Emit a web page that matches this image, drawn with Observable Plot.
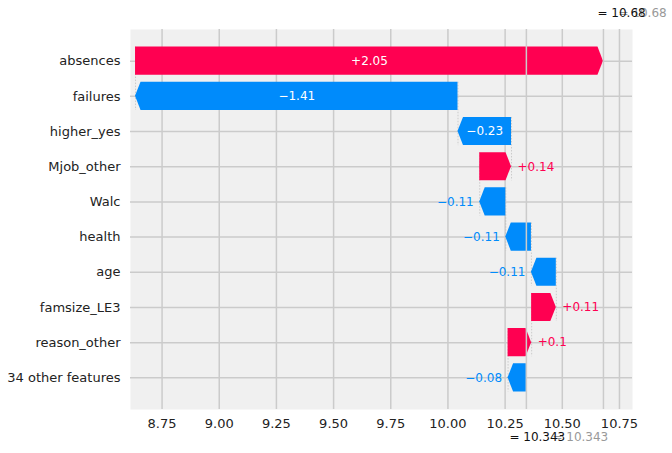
<!DOCTYPE html>
<html>
<head>
<meta charset="utf-8">
<script src="https://cdn.jsdelivr.net/npm/d3@7"></script>
<script src="https://cdn.jsdelivr.net/npm/@observablehq/plot@0.6"></script>
<style>
  body { margin: 0; background: #ffffff; }
  #chart svg { display: block; }
</style>
</head>
<body>
<div id="chart"></div>
<script>
// ---- data (top to bottom) ----
const features = ["absences", "failures", "higher_yes", "Mjob_other", "Walc", "health", "age", "famsize_LE3", "reason_other", "34 other features"];
const shapValues = [2.046, -1.41, -0.234, 0.139, -0.114, -0.112, -0.109, 0.108, 0.103, -0.08];
const baseValue = 10.343;
const xTicks = [8.75, 9.0, 9.25, 9.5, 9.75, 10.0, 10.25, 10.5, 10.75];

const RED = "#ff0051", BLUE = "#008bfb";
const GRID = "#cbcbcb";

// cumulative positions, starting from the base value at the bottom row
const n = features.length;
const rows = [];
let cursor = baseValue;
for (let i = n - 1; i >= 0; i--) {
  const start = cursor, end = cursor + shapValues[i];
  rows[i] = {i, feature: features[i], value: shapValues[i], start, end};
  cursor = end;
}
const fxValue = cursor;

const fmtBar = v => d3.format("+.2f")(v).replace(/(\.\d*?)0+$/, "$1").replace(/\.$/, "");
const fmtVal = v => d3.format(".3f")(v).replace(/(\.\d*?)0+$/, "$1").replace(/\.$/, "");

// arrow polygons
const head = 0.024, half = 0.4;
const poly = rows.flatMap(r => {
  const s = Math.sign(r.value);
  const neck = r.end - s * head;
  return [
    {i: r.i, pos: r.value > 0, y: r.i - half, x1: r.start, x2: neck},
    {i: r.i, pos: r.value > 0, y: r.i, x1: r.start, x2: r.end},
    {i: r.i, pos: r.value > 0, y: r.i + half, x1: r.start, x2: neck}
  ];
});

const connectors = rows.slice(0, n - 1).map(r => ({x: r.start, y1: r.i - half, y2: r.i + 1 + half}));
const inside = rows.filter(r => Math.abs(r.value) >= 0.2);
const outsidePos = rows.filter(r => Math.abs(r.value) < 0.2 && r.value > 0);
const outsideNeg = rows.filter(r => Math.abs(r.value) < 0.2 && r.value < 0);

const chart = Plot.plot({
  width: 672,
  height: 453,
  marginLeft: 130,
  marginRight: 40,
  marginTop: 29,
  marginBottom: 44,
  style: {fontFamily: "DejaVu Sans", color: "#222", background: "#ffffff", overflow: "visible"},
  x: {domain: [8.612, 10.807]},
  y: {domain: [9.9, -0.9]},
  marks: [
    Plot.frame({fill: "#f0f0f0", stroke: null}),
    Plot.gridX(xTicks, {stroke: GRID, strokeOpacity: 1, strokeWidth: 1.5}),
    Plot.gridY(d3.range(n), {stroke: GRID, strokeOpacity: 1, strokeWidth: 1.5}),
    Plot.ruleX(connectors, {x: "x", y1: "y1", y2: "y2", stroke: "#bbbbbb", strokeWidth: 0.7, strokeDasharray: "1.5,1.5"}),
    Plot.areaX(poly.filter(d => d.pos), {x1: "x1", x2: "x2", y: "y", z: "i", fill: RED, curve: "linear"}),
    Plot.areaX(poly.filter(d => !d.pos), {x1: "x1", x2: "x2", y: "y", z: "i", fill: BLUE, curve: "linear"}),
    Plot.ruleX([baseValue, fxValue], {stroke: GRID, strokeWidth: 1.5}),
    Plot.text(inside, {x: d => (d.start + d.end) / 2, y: "i", text: d => fmtBar(d.value), fill: "white", fontSize: 12}),
    Plot.text(outsidePos, {x: "end", y: "i", text: d => fmtBar(d.value), fill: RED, textAnchor: "start", dx: 6, fontSize: 12}),
    Plot.text(outsideNeg, {x: "end", y: "i", text: d => fmtBar(d.value), fill: BLUE, textAnchor: "end", dx: -6, fontSize: 12}),
    Plot.axisX(xTicks, {tickSize: 0, tickPadding: 9, tickFormat: d3.format(".2f"), fontSize: 13, fill: "#222"}),
    Plot.axisY(d3.range(n), {tickSize: 0, tickPadding: 10, tickFormat: i => features[i], fontSize: 13, fill: "#222"}),
    // top (model output) and bottom (expected value) annotations
    Plot.text([fxValue], {x: d => d, y: -0.9, dy: -16, dx: 15, textAnchor: "start", text: d => "= " + fmtVal(d), fill: "#999999", fontSize: 12}),
    Plot.text([fxValue], {x: d => d, y: -0.9, dy: -16, dx: -6, textAnchor: "start", text: d => "= " + fmtVal(d), fill: "#111", fontSize: 12}),
    Plot.text([baseValue], {x: d => d, y: 9.9, dy: 28, dx: 26, textAnchor: "start", text: d => "= " + fmtVal(d), fill: "#999999", fontSize: 12}),
    Plot.text([baseValue], {x: d => d, y: 9.9, dy: 28, dx: -17, textAnchor: "start", text: d => "= " + fmtVal(d), fill: "#111", fontSize: 12})
  ]
});
document.getElementById("chart").appendChild(chart);
</script>
</body>
</html>
